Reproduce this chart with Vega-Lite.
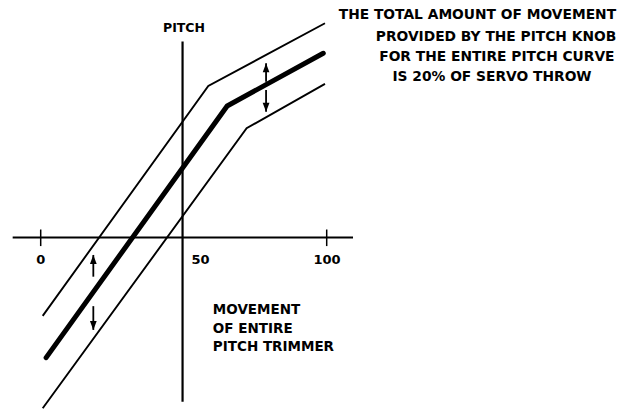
{
  "$schema": "https://vega.github.io/schema/vega-lite/v6.json",
  "width": 629,
  "height": 410,
  "autosize": {"type": "none"},
  "padding": 0,
  "background": "white",
  "config": {"view": {"stroke": null}},
  "datasets": {
    "axes": [
      {"x": -9.8, "x2": 109.2, "y": 0, "y2": 0},
      {"x": 49.6, "x2": 49.6, "y": 68.5, "y2": -57.4}
    ],
    "ticks": [
      {"x": 0, "y": 2.8, "y2": -3.0},
      {"x": 100, "y": 2.8, "y2": -3.0}
    ],
    "curves": [
      {"series": "upper", "i": 0, "x": 0.7, "y": -27.4},
      {"series": "upper", "i": 1, "x": 58.6, "y": 53.0},
      {"series": "upper", "i": 2, "x": 99.4, "y": 74.9},
      {"series": "lower", "i": 0, "x": 0.7, "y": -59.7},
      {"series": "lower", "i": 1, "x": 72.0, "y": 38.2},
      {"series": "lower", "i": 2, "x": 99.4, "y": 53.7}
    ],
    "main": [
      {"i": 0, "x": 1.9, "y": -42.0},
      {"i": 1, "x": 65.2, "y": 46.0},
      {"i": 2, "x": 98.8, "y": 64.4}
    ],
    "arrows": [
      {"dir": "up", "x": 78.8, "base": 54.5, "tip": 60.9},
      {"dir": "down", "x": 78.8, "base": 51.6, "tip": 44.0},
      {"dir": "up", "x": 18.4, "base": -13.7, "tip": -6.1},
      {"dir": "down", "x": 18.4, "base": -24.0, "tip": -32.3}
    ],
    "ticklabels": [
      {"text": "0", "x": 0, "y": -7.9},
      {"text": "50", "x": 55.9, "y": -7.9},
      {"text": "100", "x": 100.1, "y": -7.9}
    ],
    "note": [
      {"text": "THE TOTAL AMOUNT OF MOVEMENT", "x": 152.7, "y": 77.8},
      {"text": "PROVIDED BY THE PITCH KNOB", "x": 159.2, "y": 70.2},
      {"text": "FOR THE ENTIRE PITCH CURVE", "x": 159.5, "y": 63.2},
      {"text": "IS 20% OF SERVO THROW", "x": 157.8, "y": 56.0}
    ],
    "trim": [
      {"text": "MOVEMENT", "x": 60.2, "y": -25.5},
      {"text": "OF ENTIRE", "x": 60.2, "y": -31.9},
      {"text": "PITCH TRIMMER", "x": 60.2, "y": -38.4}
    ],
    "title": [
      {"text": "PITCH", "x": 50.1, "y": 73.3}
    ]
  },
  "layer": [
    {
      "data": {"name": "axes"},
      "mark": {"type": "rule", "color": "black", "strokeWidth": 2.2},
      "encoding": {
        "x": {"field": "x", "type": "quantitative", "scale": {"domain": [-14.23, 205.7], "nice": false, "zero": false}, "axis": null},
        "x2": {"field": "x2"},
        "y": {"field": "y", "type": "quantitative", "scale": {"domain": [-60.31, 83.04], "nice": false, "zero": false}, "axis": null},
        "y2": {"field": "y2"}
      }
    },
    {
      "data": {"name": "ticks"},
      "mark": {"type": "rule", "color": "black", "strokeWidth": 1.5},
      "encoding": {
        "x": {"field": "x", "type": "quantitative", "scale": {"domain": [-14.23, 205.7], "nice": false, "zero": false}, "axis": null},
        "y": {"field": "y", "type": "quantitative", "scale": {"domain": [-60.31, 83.04], "nice": false, "zero": false}, "axis": null},
        "y2": {"field": "y2"}
      }
    },
    {
      "data": {"name": "curves"},
      "mark": {"type": "line", "color": "black", "strokeWidth": 1.9},
      "encoding": {
        "x": {"field": "x", "type": "quantitative", "scale": {"domain": [-14.23, 205.7], "nice": false, "zero": false}, "axis": null},
        "y": {"field": "y", "type": "quantitative", "scale": {"domain": [-60.31, 83.04], "nice": false, "zero": false}, "axis": null},
        "detail": {"field": "series"},
        "order": {"field": "i", "type": "quantitative"}
      }
    },
    {
      "data": {"name": "main"},
      "mark": {"type": "line", "color": "black", "strokeWidth": 5, "strokeCap": "round"},
      "encoding": {
        "x": {"field": "x", "type": "quantitative", "scale": {"domain": [-14.23, 205.7], "nice": false, "zero": false}, "axis": null},
        "y": {"field": "y", "type": "quantitative", "scale": {"domain": [-60.31, 83.04], "nice": false, "zero": false}, "axis": null},
        "order": {"field": "i", "type": "quantitative"}
      }
    },
    {
      "data": {"name": "arrows"},
      "mark": {"type": "rule", "color": "black", "strokeWidth": 1.8},
      "encoding": {
        "x": {"field": "x", "type": "quantitative", "scale": {"domain": [-14.23, 205.7], "nice": false, "zero": false}, "axis": null},
        "y": {"field": "base", "type": "quantitative", "scale": {"domain": [-60.31, 83.04], "nice": false, "zero": false}, "axis": null},
        "y2": {"field": "tip"}
      }
    },
    {
      "data": {"name": "arrows"},
      "transform": [{"filter": "datum.dir === 'up'"}],
      "mark": {"type": "point", "filled": true, "color": "black", "opacity": 1, "size": 81, "shape": "M-0.75,2L0,0L0.75,2Z"},
      "encoding": {
        "x": {"field": "x", "type": "quantitative", "scale": {"domain": [-14.23, 205.7], "nice": false, "zero": false}, "axis": null},
        "y": {"field": "tip", "type": "quantitative", "scale": {"domain": [-60.31, 83.04], "nice": false, "zero": false}, "axis": null}
      }
    },
    {
      "data": {"name": "arrows"},
      "transform": [{"filter": "datum.dir === 'down'"}],
      "mark": {"type": "point", "filled": true, "color": "black", "opacity": 1, "size": 81, "shape": "M-0.75,-2L0,0L0.75,-2Z"},
      "encoding": {
        "x": {"field": "x", "type": "quantitative", "scale": {"domain": [-14.23, 205.7], "nice": false, "zero": false}, "axis": null},
        "y": {"field": "tip", "type": "quantitative", "scale": {"domain": [-60.31, 83.04], "nice": false, "zero": false}, "axis": null}
      }
    },
    {
      "data": {"name": "ticklabels"},
      "mark": {"type": "text", "font": "DejaVu Sans", "fontWeight": "bold", "fontSize": 13, "align": "center", "baseline": "middle", "color": "black"},
      "encoding": {
        "x": {"field": "x", "type": "quantitative", "scale": {"domain": [-14.23, 205.7], "nice": false, "zero": false}, "axis": null},
        "y": {"field": "y", "type": "quantitative", "scale": {"domain": [-60.31, 83.04], "nice": false, "zero": false}, "axis": null},
        "text": {"field": "text"}
      }
    },
    {
      "data": {"name": "note"},
      "mark": {"type": "text", "font": "DejaVu Sans", "fontWeight": "bold", "fontSize": 13.8, "align": "center", "baseline": "middle", "color": "black"},
      "encoding": {
        "x": {"field": "x", "type": "quantitative", "scale": {"domain": [-14.23, 205.7], "nice": false, "zero": false}, "axis": null},
        "y": {"field": "y", "type": "quantitative", "scale": {"domain": [-60.31, 83.04], "nice": false, "zero": false}, "axis": null},
        "text": {"field": "text"}
      }
    },
    {
      "data": {"name": "trim"},
      "mark": {"type": "text", "font": "DejaVu Sans", "fontWeight": "bold", "fontSize": 13.5, "align": "left", "baseline": "middle", "color": "black"},
      "encoding": {
        "x": {"field": "x", "type": "quantitative", "scale": {"domain": [-14.23, 205.7], "nice": false, "zero": false}, "axis": null},
        "y": {"field": "y", "type": "quantitative", "scale": {"domain": [-60.31, 83.04], "nice": false, "zero": false}, "axis": null},
        "text": {"field": "text"}
      }
    },
    {
      "data": {"name": "title"},
      "mark": {"type": "text", "font": "DejaVu Sans", "fontWeight": "bold", "fontSize": 12.5, "align": "center", "baseline": "middle", "color": "black"},
      "encoding": {
        "x": {"field": "x", "type": "quantitative", "scale": {"domain": [-14.23, 205.7], "nice": false, "zero": false}, "axis": null},
        "y": {"field": "y", "type": "quantitative", "scale": {"domain": [-60.31, 83.04], "nice": false, "zero": false}, "axis": null},
        "text": {"field": "text"}
      }
    }
  ]
}
